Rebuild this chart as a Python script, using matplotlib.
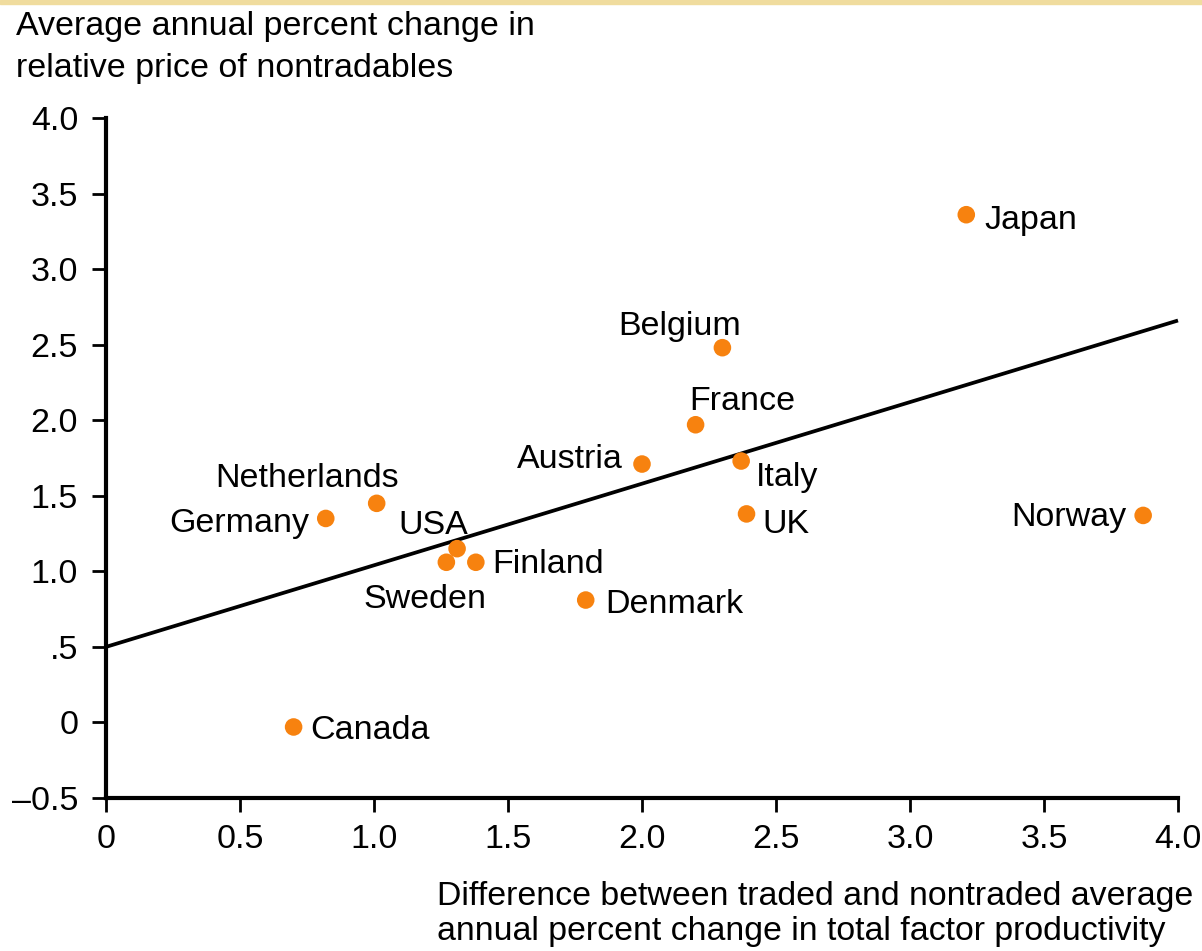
# Scatter of relative price of nontradables vs productivity differential
import matplotlib.pyplot as plt
from matplotlib.patches import Rectangle

# Data
countries = ['Canada', 'Germany', 'Netherlands', 'USA', 'Sweden', 'Finland', 'Denmark',
             'Austria', 'France', 'Belgium', 'Italy', 'UK', 'Japan', 'Norway']
tfp_diff = [0.70, 0.82, 1.01, 1.31, 1.27, 1.38, 1.79, 2.00, 2.20, 2.30, 2.37, 2.39, 3.21, 3.87]
price_change = [-0.03, 1.35, 1.45, 1.15, 1.06, 1.06, 0.81, 1.71, 1.97, 2.48, 1.73, 1.38, 3.36, 1.37]

# Fitted line end points
fit_x = [0.0, 4.0]
fit_y = [0.50, 2.66]

x_ticks = [0, 0.5, 1.0, 1.5, 2.0, 2.5, 3.0, 3.5, 4.0]
x_labels = ['0', '0.5', '1.0', '1.5', '2.0', '2.5', '3.0', '3.5', '4.0']
y_ticks = [-0.5, 0, 0.5, 1.0, 1.5, 2.0, 2.5, 3.0, 3.5, 4.0]
y_labels = ['\u20130.5', '0', '.5', '1.0', '1.5', '2.0', '2.5', '3.0', '3.5', '4.0']

# label offsets (pixels, to text baseline) and horizontal alignment
label_pos = {
    'Canada': (17, -12, 'left'),
    'Germany': (-17, -14, 'right'),
    'Netherlands': (-70, 16, 'center'),
    'USA': (-24, 15, 'center'),
    'Sweden': (-21, -46, 'center'),
    'Finland': (16, -11, 'left'),
    'Denmark': (20, -13, 'left'),
    'Austria': (-19, -4, 'right'),
    'France': (47, 15, 'center'),
    'Belgium': (-43, 13, 'center'),
    'Italy': (15, -25, 'left'),
    'UK': (16, -19, 'left'),
    'Japan': (18, -14, 'left'),
    'Norway': (-17, -11, 'right'),
}

plt.rcParams['font.family'] = ['Liberation Sans', 'DejaVu Sans']
orange = '#F7820F'
fs = 24.5

fig = plt.figure(figsize=(12.02, 9.51), dpi=100)
ax = fig.add_axes([106 / 1202, 1 - 798 / 951, (1178 - 106) / 1202, (798 - 118) / 951])

ax.plot(fit_x, fit_y, color='black', linewidth=2.7, solid_capstyle='butt', zorder=2, clip_on=False)
ax.scatter(tfp_diff, price_change, s=160, color=orange, edgecolors='none', zorder=3, clip_on=False)

for name, x, y in zip(countries, tfp_diff, price_change):
    dx, dy, ha = label_pos[name]
    ax.annotate(name, (x, y), xytext=(dx, dy), textcoords='offset pixels',
                ha=ha, va='baseline', fontsize=fs)

ax.set_xlim(0, 4.0)
ax.set_ylim(-0.5, 4.0)
ax.set_xticks(x_ticks)
ax.set_xticklabels(x_labels)
ax.set_yticks(y_ticks)
ax.set_yticklabels(y_labels)
ax.tick_params(axis='both', labelsize=fs, width=2, length=10, direction='out', color='black')
ax.tick_params(axis='x', pad=9)
ax.tick_params(axis='y', pad=10)
for side in ['top', 'right']:
    ax.spines[side].set_visible(False)
for side in ['left', 'bottom']:
    ax.spines[side].set_linewidth(3)

# axis titles, placed like the original (top-left and bottom-right)
fig.text(16 / 1202, 1 - 35 / 951, 'Average annual percent change in',
         ha='left', va='baseline', fontsize=fs)
fig.text(16 / 1202, 1 - 77 / 951, 'relative price of nontradables',
         ha='left', va='baseline', fontsize=fs)
fig.text(437 / 1202, 1 - 905 / 951, 'Difference between traded and nontraded average',
         ha='left', va='baseline', fontsize=24.4)
fig.text(437 / 1202, 1 - 940 / 951, 'annual percent change in total factor productivity',
         ha='left', va='baseline', fontsize=24.4)

# thin tan strip along the top edge
fig.patches.append(Rectangle((0, 1 - 4 / 951), 1, 4 / 951, transform=fig.transFigure,
                             color='#F0DC9E', zorder=0))

fig.savefig('out.png', dpi=100)
